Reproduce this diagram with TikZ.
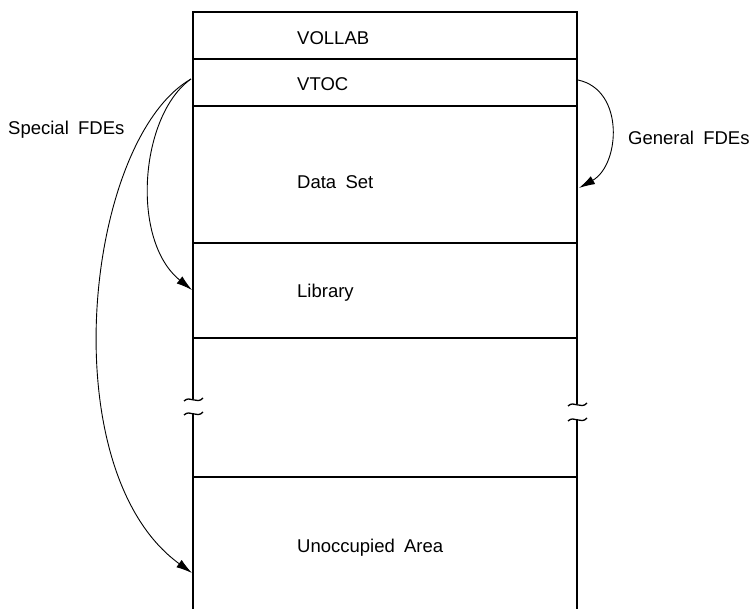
\documentclass[tikz,border=0pt]{standalone}
\usepackage{fontspec}
\setmainfont{Liberation Sans}[WordSpace=1.8]
\usepackage{tikz}
\usetikzlibrary{arrows.meta,positioning,calc}

\begin{document}
\begin{tikzpicture}[x=1pt, y=-1pt,
    wall/.style={line width=1.3pt},
    txt/.style={font=\fontsize{18.5}{22}\selectfont, anchor=west, inner sep=0pt},
    fde/.style={line width=0.9pt, -{Latex[length=16pt,width=9pt]}},
    brk/.style={line width=1.3pt}]
    \useasboundingbox (0,0) rectangle (750,609);

    % Volume outline
    \coordinate (tl) at (193,12);
    \coordinate (tr) at (577,12);
    \draw [wall] (193,399) -- (tl) -- (tr) -- (577,404);
    \draw [wall] (193,413) -- (193,609);
    \draw [wall] (577,419) -- (577,609);

    % Break marks
    \draw [brk] (184,401) .. controls (190,395) and (197,405) .. (203,398);
    \draw [brk] (184,415) .. controls (190,409) and (197,419) .. (203,412);
    \draw [brk] (568,406) .. controls (574,400) and (581,410) .. (587,403);
    \draw [brk] (568,421) .. controls (574,415) and (581,425) .. (587,418);

    % Area boundaries
    \foreach \y in {59,106,243,338,477}
        \draw [wall] (193,\y) -- (577,\y);

    % Area names
    \node [txt] (vollab) at (297,38) {VOLLAB};
    \node [txt] (vtoc) at (297,84) {VTOC};
    \node [txt] (dataset) at (297,182) {Data Set};
    \node [txt] (library) at (297,293) {Library};
    \node [txt] (unocc) at (297,548) {Unoccupied Area};

    % Arrow ends on the outline
    \coordinate (vtocL) at (191,79);
    \coordinate (vtocR) at (578,80);
    \coordinate (libL) at (192,290);
    \coordinate (unoccL) at (192,573);
    \coordinate (dataR) at (579,188);

    % Special FDEs
    \node [txt] (special) at (8,130) {Special FDEs};
    \draw [fde] (vtocL) .. controls (140,115) and (130,240) .. (libL);
    \draw [fde] (vtocL) .. controls (85,140) and (50,470) .. (unoccL);

    % General FDEs
    \node [txt] (general) at (628,138) {General FDEs};
    \draw [fde] (vtocR) .. controls (625,90) and (620,165) .. (dataR);
\end{tikzpicture}
\end{document}
